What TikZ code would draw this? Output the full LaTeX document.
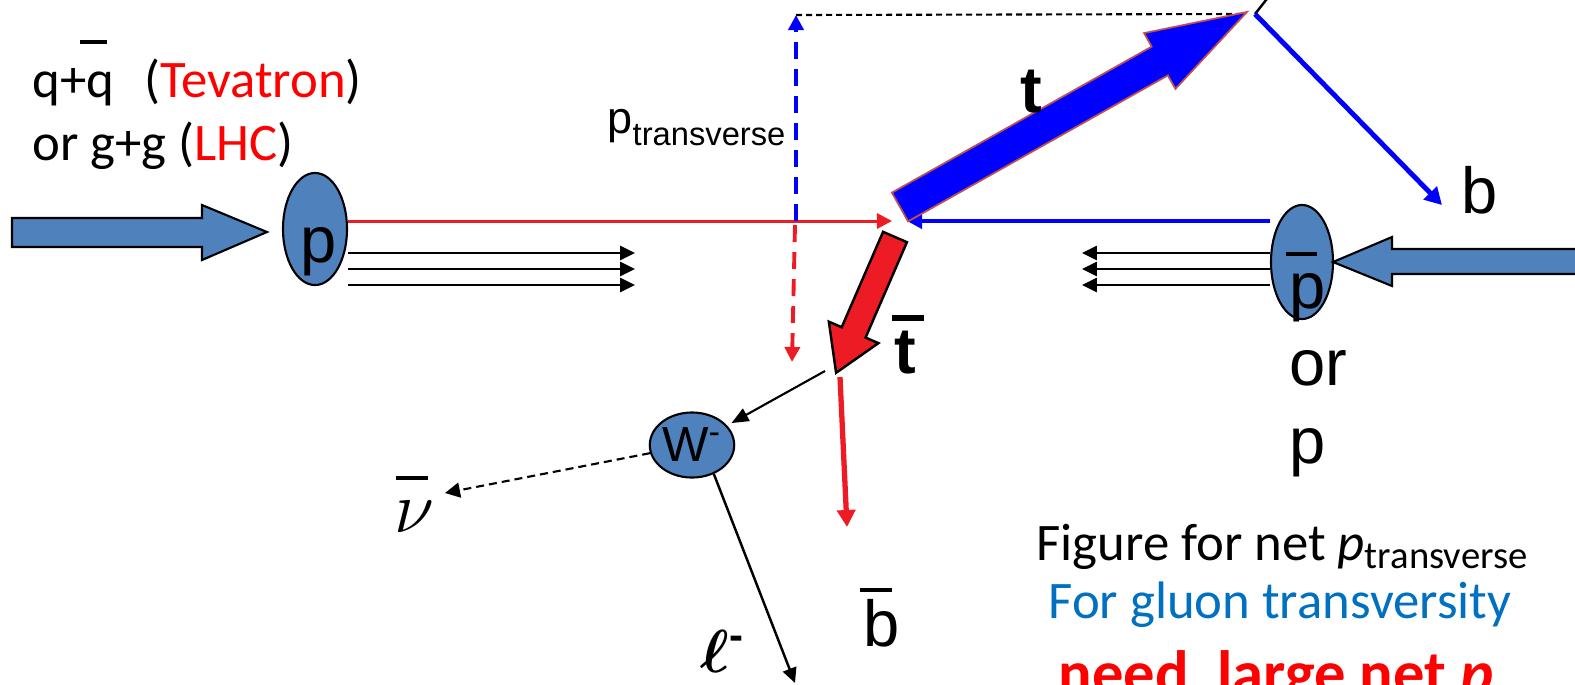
\documentclass[tikz,border=0pt]{standalone}
\usepackage{amsmath,amssymb,bm}
\usepackage{fontspec}
\setmainfont{Liberation Sans}
\newfontfamily\calfont{Carlito}
\usepackage{xcolor}
\usetikzlibrary{arrows.meta,positioning,shapes.geometric,calc}

\definecolor{steel}{HTML}{4F81BD}
\definecolor{qred}{HTML}{ED1C24}
\definecolor{tevred}{HTML}{FF0000}
\definecolor{qblue}{HTML}{0000FF}
\definecolor{txtblue}{HTML}{0070C0}
\definecolor{trim}{HTML}{C0504D}

\newcommand{\bigfont}{\fontsize{18.5}{22}\selectfont}

\begin{document}
\begin{tikzpicture}[x=0.01cm, y=-0.01cm,
      blob/.style={ellipse, draw=black, line width=0.6pt, fill=steel, inner sep=0pt},
      fat/.style={draw=black, line width=0.6pt, fill=steel},
      beam/.style={-{Triangle[length=0.15cm, width=0.14cm]}, line width=0.7pt},
      harr/.style={-{Triangle[length=0.15cm, width=0.15cm]}},
      barr/.style={-{Triangle[length=0.17cm, width=0.18cm]}},
      lbl/.style={inner sep=0pt, font=\bigfont},
      caltxt/.style={inner sep=0pt, font=\calfont\fontsize{15}{18}\selectfont},
      barline/.style={line width=0.9pt}]
    \useasboundingbox (0,0) rectangle (1575,684);

    % protons and incoming beams
    \node[blob, minimum width=0.64cm, minimum height=1.12cm] (pL) at (315,229) {};
    \node[blob, minimum width=0.62cm, minimum height=1.14cm] (pR) at (1302,262) {};
    \path[fat] (12,218) -- (202,218) -- (202,205) -- (267,232) -- (202,260) -- (202,247) -- (12,247) -- cycle;
    \path[fat] (1600,249) -- (1392,249) -- (1392,237) -- (1333,262) -- (1392,286) -- (1392,274) -- (1600,274) -- cycle;

    \coordinate (vtx) at (897,221);
    \coordinate (rtip) at (892,221);
    \coordinate (btip) at (907,221);
    \coordinate (tvtx) at (1255,14);
    \coordinate (tbvtx) at (840,377);

    % partons and spectators
    \draw[qred, line width=0.85pt, harr] (pL.east |- vtx) -- (rtip);
    \draw[qblue, line width=1.1pt, harr] (pR.west |- vtx) -- (btip);
    \foreach \dy in {24,40,56}
      \draw[beam] ($(pL.east)+(0,\dy)$) -- ++(287,0);
    \foreach \dy in {-9,7,23}
      \draw[beam] ($(pR.west)+(0,\dy)$) -- ++(-188,0);

    % transverse momentum
    \coordinate (pt0) at (796,221);
    \coordinate (pttop) at (796,15);
    \coordinate (ptlow0) at (795,225);
    \coordinate (ptlow) at (792,362);
    \coordinate (tdash) at (1240,14);
    \draw[qblue, line width=1.1pt, dash pattern=on 0.17cm off 0.1cm, harr] (pt0) -- (pttop);
    \draw[qred, line width=1.1pt, dash pattern=on 0.17cm off 0.1cm, harr] (ptlow0) -- (ptlow);
    \draw[line width=0.6pt, dash pattern=on 0.06cm off 0.04cm] (pttop) -- (tdash);

    % top and antitop
    \begin{scope}[shift={(900,207)}, rotate=29.34]
      \path[draw=trim, line width=0.5pt, fill=qblue]
        (0,-16.5) -- (298,-16.5) -- (298,-32) -- (398,0) -- (298,32) -- (298,16.5) -- (0,16.5) -- cycle;
    \end{scope}
    \begin{scope}[shift={(895,237)}, rotate=246.55]
      \path[draw=black, line width=0.7pt, fill=qred]
        (0,-13) -- (104,-13) -- (104,-27) -- (148,0) -- (104,27) -- (104,13) -- (0,13) -- cycle;
    \end{scope}

    % decays
    \coordinate (wup) at (1270,-5);
    \coordinate (bend) at (1442,205);
    \coordinate (bbarend) at (847,527);
    \coordinate (wsrc) at (825,371);
    \coordinate (nutip) at (445,493);
    \coordinate (lend) at (795,683);
    \draw[line width=0.7pt] (tvtx) -- (wup);
    \draw[qblue, line width=1.4pt, barr] (tvtx) -- (bend);
    \draw[qred, line width=1.5pt, barr] (tbvtx) -- (bbarend);
    \node[blob, minimum width=0.81cm, minimum height=0.65cm, font=\fontsize{14}{16}\selectfont] (W) at (692,445) {W\textsuperscript{-}};
    \draw[line width=0.6pt, -{Triangle[length=0.17cm, width=0.14cm]}, shorten >=0.05cm] (wsrc) -- (W);
    \draw[line width=0.6pt, dash pattern=on 0.08cm off 0.05cm, harr] (W) -- (nutip);
    \draw[line width=0.85pt, beam] (W.-53) -- (lend);

    % labels
    \node[lbl, anchor=base] (plbl) at (319,262) {p};
    \node[lbl, anchor=base west] (pbarlbl) at (1289,308) {p};
    \node[lbl, anchor=base west] (orlbl) at (1289,385) {or};
    \node[lbl, anchor=base west] (p2lbl) at (1289,463) {p};
    \draw[line width=1.1pt] (1286,254) -- (1317,254);
    \node[lbl, anchor=base west] (blbl) at (1461,213) {b};
    \node[lbl, anchor=base] (bbarlbl) at (882,646) {b};
    \draw[barline, line width=1.1pt] (860,590) -- (892,590);
    \node[lbl, anchor=base, font=\bigfont\bfseries] (tlbl) at (1031,112) {t};
    \node[lbl, anchor=base, font=\bigfont\bfseries] (tbarlbl) at (905,373) {t};
    \draw[line width=1.7pt] (892,318) -- (924,318);
    \node[inner sep=0pt, anchor=base] (nulbl) at (414,532) {\fontsize{22}{26}\selectfont$\nu$};
    \draw[line width=1.1pt] (396,478) -- (428,478);
    \node[inner sep=0pt, anchor=base west] (ellbl) at (700,672) {\fontsize{17}{20}\selectfont$\bm{\ell}$\textsuperscript{\bfseries -}};
    \node[inner sep=0pt, anchor=base west] (ptlbl) at (607,133)
      {\fontsize{12.8}{15}\selectfont p\raisebox{-0.12cm}{\fontsize{9.3}{11}\selectfont transverse}};

    \node[caltxt, anchor=base west] (qq) at (32,97) {q+q\hspace{0.3cm}(\textcolor{tevred}{Tevatron})};
    \node[caltxt, anchor=base west] (gg) at (32,160) {or g+g (\textcolor{tevred}{LHC})};
    \draw[barline] (80,42) -- (107,42);

    \node[caltxt, anchor=base] (note1) at (1282,560)
      {Figure for net \textit{p}\raisebox{-0.08cm}{\fontsize{11}{13}\selectfont transverse}};
    \node[caltxt, anchor=base, text=txtblue] (note2) at (1280,618) {For gluon transversity};
    \node[caltxt, anchor=base, text=tevred, font=\calfont\fontsize{17.8}{20}\selectfont\bfseries] (note3) at (1276,694)
      {need\ \ large net \textit{p}};
  \end{tikzpicture}
\end{document}
